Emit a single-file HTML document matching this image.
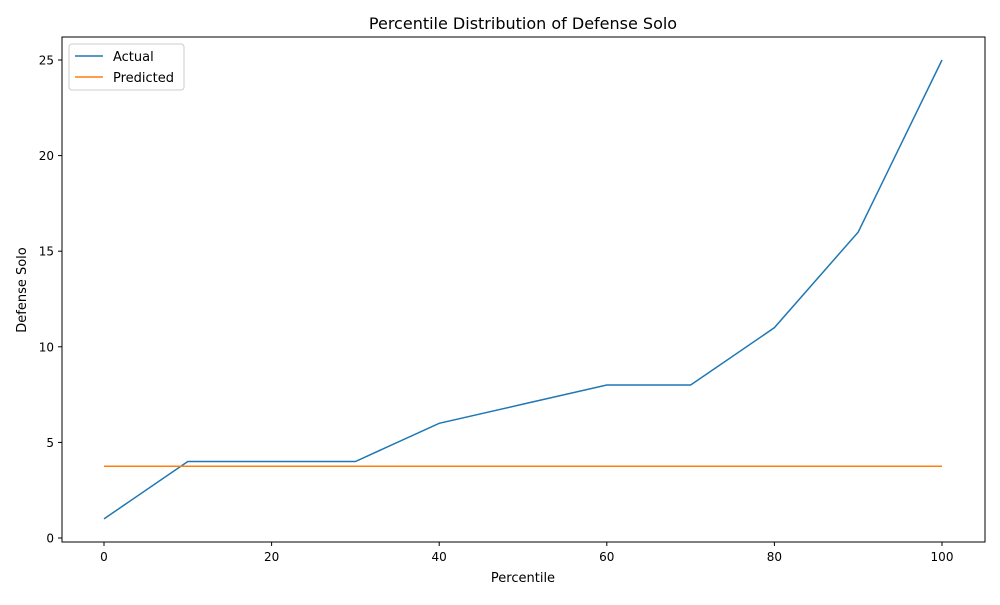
<!DOCTYPE html>
<html><head><meta charset="utf-8"><style>
body{margin:0;background:#fff;font-family:"Liberation Sans","DejaVu Sans",sans-serif;}
svg text{font-family:"DejaVu Sans","Liberation Sans",sans-serif;}
</style></head><body>
<svg id="chart" width="1000" height="600" xmlns="http://www.w3.org/2000/svg">
<rect width="1000" height="600" fill="#fff"/>
<text x="523" y="29" font-size="16" text-anchor="middle">Percentile Distribution of Defense Solo</text>
<rect x="62" y="37" width="923" height="505" fill="none" stroke="#000" stroke-width="1"/>
<g id="xticks"></g><g id="yticks"></g><g id="series"></g>
<text x="523" y="582" font-size="13" text-anchor="middle">Percentile</text>
<text transform="translate(26,290) rotate(-90)" font-size="13" text-anchor="middle">Defense Solo</text>
<g>
<rect x="69" y="44" width="115" height="46" fill="#fff" stroke="#ccc" rx="3"/>
<line x1="75" y1="56" x2="103" y2="56" stroke="#1f77b4" stroke-width="1.5"/>
<text x="113" y="61" font-size="13">Actual</text>
<line x1="75" y1="77" x2="103" y2="77" stroke="#ff7f0e" stroke-width="1.5"/>
<text x="113" y="82" font-size="13">Predicted</text>
</g>
</svg>
<script>
const percentiles=[0,10,20,30,40,50,60,70,80,90,100];
const actual=[1,4,4,4,6,7,8,8,11,16,25];
const predicted=[3.75,3.75,3.75,3.75,3.75,3.75,3.75,3.75,3.75,3.75,3.75];
const xTicks=[0,20,40,60,80,100];
const yTicks=[0,5,10,15,20,25];
const NS="http://www.w3.org/2000/svg";
const xs=v=>104+v*(942-104)/100;
const ys=v=>538-v*(538-60)/25;
function mk(tag,attrs,parent){const e=document.createElementNS(NS,tag);for(const k in attrs)e.setAttribute(k,attrs[k]);parent.appendChild(e);return e;}
const xg=document.getElementById('xticks'),yg=document.getElementById('yticks'),sg=document.getElementById('series');
xTicks.forEach(t=>{const x=xs(t);
const l=mk('line',{x1:x,x2:x,y1:542,y2:546,stroke:'#000'},xg);


const tx=mk('text',{x:x,y:561,'font-size':12,'text-anchor':'middle'},xg);tx.textContent=t;

});
yTicks.forEach(t=>{const y=ys(t);
const l=mk('line',{x1:58,x2:62,y1:y,y2:y,stroke:'#000'},yg);


const tx=mk('text',{x:54,y:y+4.5,'font-size':12,'text-anchor':'end'},yg);tx.textContent=t;

});
const pa=mk('polyline',{points:percentiles.map((p,i)=>xs(p)+','+ys(actual[i])).join(' '),fill:'none',stroke:'#1f77b4','stroke-width':1.5},sg);


const pp=mk('polyline',{points:percentiles.map((p,i)=>xs(p)+','+ys(predicted[i])).join(' '),fill:'none',stroke:'#ff7f0e','stroke-width':1.5},sg);


</script>
</body></html>
